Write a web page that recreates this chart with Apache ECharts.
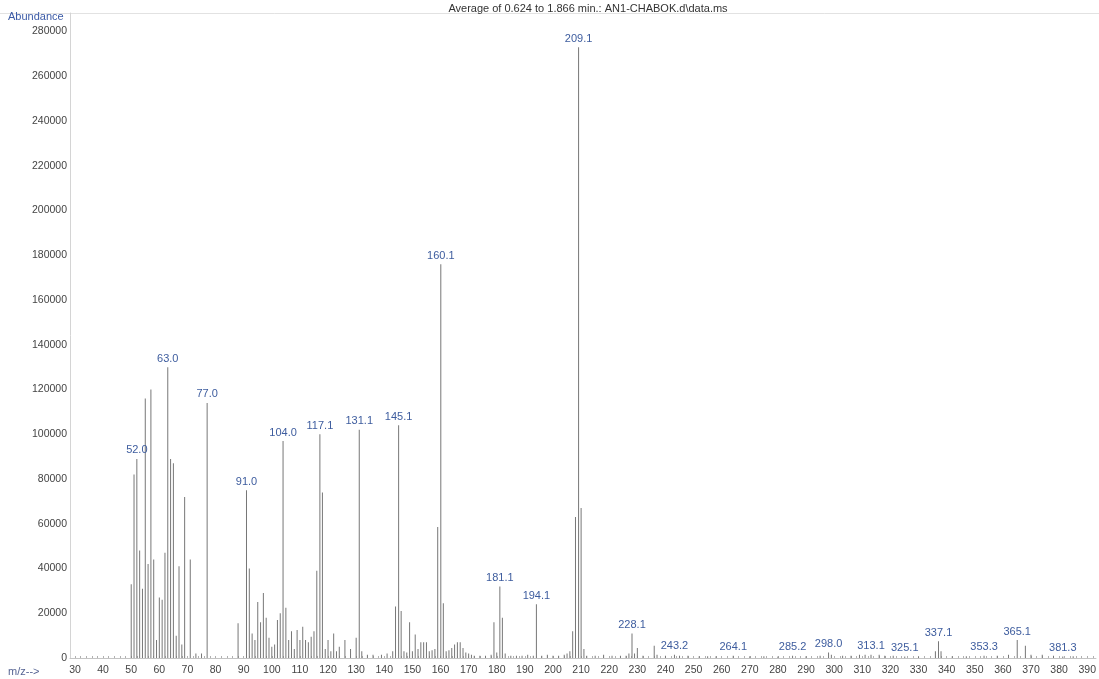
<!DOCTYPE html>
<html>
<head>
<meta charset="utf-8">
<script src="https://cdn.jsdelivr.net/npm/echarts@6/dist/echarts.min.js"></script>
<style>
  html, body { margin: 0; padding: 0; background: #fff; }
  #chart { width: 1099px; height: 679px; }
</style>
</head>
<body>
<div id="chart"></div>
<script>
// Averaged mass spectrum: m/z of each ion and its abundance
const mz = [
  50, 51, 52.0, 53, 54, 55, 56, 57, 58, 59, 60, 61, 62, 63.0, 64, 65, 66, 67, 68, 69, 71, 73, 75, 77.0,
  88, 91.0, 92, 93, 94, 95, 96, 97, 98, 99, 100, 101, 102, 103, 104.0, 105, 106, 107, 108, 109, 110,
  111, 112, 113, 114, 115, 116, 117.1, 118, 119, 120, 121, 122, 123, 124, 126, 128, 130, 131.1, 132,
  134, 136, 139, 141, 143, 144, 145.1, 146, 147, 148, 149, 150, 151, 152, 153, 154, 155, 156, 157,
  158, 159, 160.1, 161, 162, 163, 164, 165, 166, 167, 168, 169, 170, 171, 172, 174, 176, 178, 179,
  180, 181.1, 182, 183, 185, 187, 189, 191, 193, 194.1, 196, 198, 200, 202, 204, 205, 206, 207, 208,
  209.1, 210, 211, 212, 215, 218, 221, 224, 226, 227, 228.1, 229, 230, 232, 236, 237, 240, 243.2,
  245, 248, 252, 255, 258, 264.1, 270, 275, 280, 285.2, 290, 295, 298.0, 299, 303, 306, 309, 311,
  313.1, 316, 318, 321, 325.1, 330, 336, 337.1, 338, 342, 347, 353.3, 358, 362, 365.1, 368, 370,
  374, 378, 381.3, 385
];
const abundance = [
  33000, 82000, 89000, 48000, 31000, 116000, 42000, 120000, 44000, 8000, 27000, 26000, 47000, 130000, 89000, 87000, 10000, 41000, 6000, 72000, 44000, 2000, 2000, 114000,
  15500, 75000, 40000, 11000, 8000, 25000, 16000, 29000, 18000, 9000, 5000, 6000, 17000, 20000, 97000, 22500, 8000, 12000, 4000, 12500, 8000,
  14000, 8000, 7000, 9500, 12000, 39000, 100000, 74000, 4000, 8000, 3000, 11000, 3000, 5000, 8000, 4000, 9000, 102000, 3000,
  1500, 1500, 1500, 2000, 3000, 23000, 104000, 21000, 3000, 2500, 16000, 3000, 10500, 4000, 7000, 7000, 7000, 3000, 3500,
  4000, 58500, 176000, 24500, 3000, 3500, 4500, 6000, 7000, 7000, 4500, 2500, 2000, 1500, 1000, 1000, 1000, 1500, 16000,
  2500, 32000, 18000, 2000, 1000, 1000, 1000, 1500, 1000, 24000, 1000, 1500, 1000, 1000, 1500, 2000, 3000, 12000, 63000,
  273000, 67000, 4000, 1000, 1000, 1500, 1000, 1000, 1000, 2000, 11000, 2000, 4500, 1000, 5500, 1500, 1000, 1500,
  1000, 1000, 800, 800, 800, 1000, 800, 800, 700, 1000, 800, 1000, 2500, 1500, 1000, 1000, 1500, 1500,
  1500, 1500, 1000, 1000, 700, 700, 3000, 7500, 3000, 800, 800, 1000, 1000, 1500, 8000, 5500, 1500,
  1500, 1000, 700, 800
];
// Ions annotated with their m/z
const labelledMz = [
  52.0, 63.0, 77.0, 91.0, 104.0, 117.1, 131.1, 145.1, 160.1, 181.1, 194.1, 209.1,
  228.1, 243.2, 264.1, 285.2, 298.0, 313.1, 325.1, 337.1, 353.3, 365.1, 381.3
];
// m/z axis labels and tick marks
const xLabelValues = [30, 40, 50, 60, 70, 80, 90, 100, 110, 120, 130, 140, 150, 160, 170, 180, 190,
  200, 210, 220, 230, 240, 250, 260, 270, 280, 290, 300, 310, 320, 330, 340, 350, 360, 370, 380, 390];
const xTickValues = [];
for (let v = 30; v <= 392; v += 2) xTickValues.push(v);

const FONT = '"Liberation Sans", Arial, sans-serif';
const LABEL_BLUE = '#3d5c9e';

const chart = echarts.init(document.getElementById('chart'), null, { renderer: 'canvas' });

const peaks = mz.map((m, i) => ({
  value: [m, abundance[i]],
  label: { show: labelledMz.includes(m) }
}));

chart.setOption({
  animation: false,
  backgroundColor: '#ffffff',
  grid: { left: 70, right: 0, top: 13, bottom: 21, containLabel: false },
  xAxis: {
    type: 'value',
    min: 28.23,
    max: 393.1,
    axisLine: { show: true, lineStyle: { color: '#c4c4c4', width: 1 } },
    axisTick: {
      show: true, inside: true, length: 2,
      customValues: xTickValues,
      lineStyle: { color: '#b0b0b0' }
    },
    axisLabel: {
      customValues: xLabelValues,
      color: '#444', fontSize: 10.5, fontFamily: FONT, margin: 7
    },
    splitLine: { show: false }
  },
  yAxis: {
    type: 'value',
    min: 0,
    max: 288300,
    interval: 20000,
    axisLine: { show: true, lineStyle: { color: '#d4d4d4', width: 1 } },
    axisTick: { show: false },
    axisLabel: {
      color: '#444', fontSize: 10.5, fontFamily: FONT, margin: 3,
      showMaxLabel: false,
      formatter: v => String(v)
    },
    splitLine: { show: false }
  },
  graphic: [
    {
      type: 'line', silent: true,
      shape: { x1: 0, y1: 13.5, x2: 1099, y2: 13.5 },
      style: { stroke: '#e2e2e2', lineWidth: 1 }
    },
    {
      type: 'text', left: 8, top: 11, silent: true,
      style: { text: 'Abundance', fill: '#3b5aa6', font: '11px ' + FONT }
    },
    {
      type: 'text', left: 8, top: 666, silent: true,
      style: { text: 'm/z-->', fill: '#566493', font: '11px ' + FONT }
    },
    {
      type: 'text', x: 588, y: 9, silent: true,
      style: {
        text: 'Average of 0.624 to 1.866 min.: AN1-CHABOK.d\\data.ms',
        fill: '#333', font: '11px ' + FONT, align: 'center', verticalAlign: 'middle'
      }
    }
  ],
  series: [{
    type: 'bar',
    data: peaks,
    barWidth: 1,
    itemStyle: { color: '#777' },
    label: {
      position: 'top',
      distance: 3,
      color: LABEL_BLUE,
      fontSize: 11,
      fontFamily: FONT,
      formatter: p => p.value[0].toFixed(1)
    }
  }]
});
</script>
</body>
</html>
